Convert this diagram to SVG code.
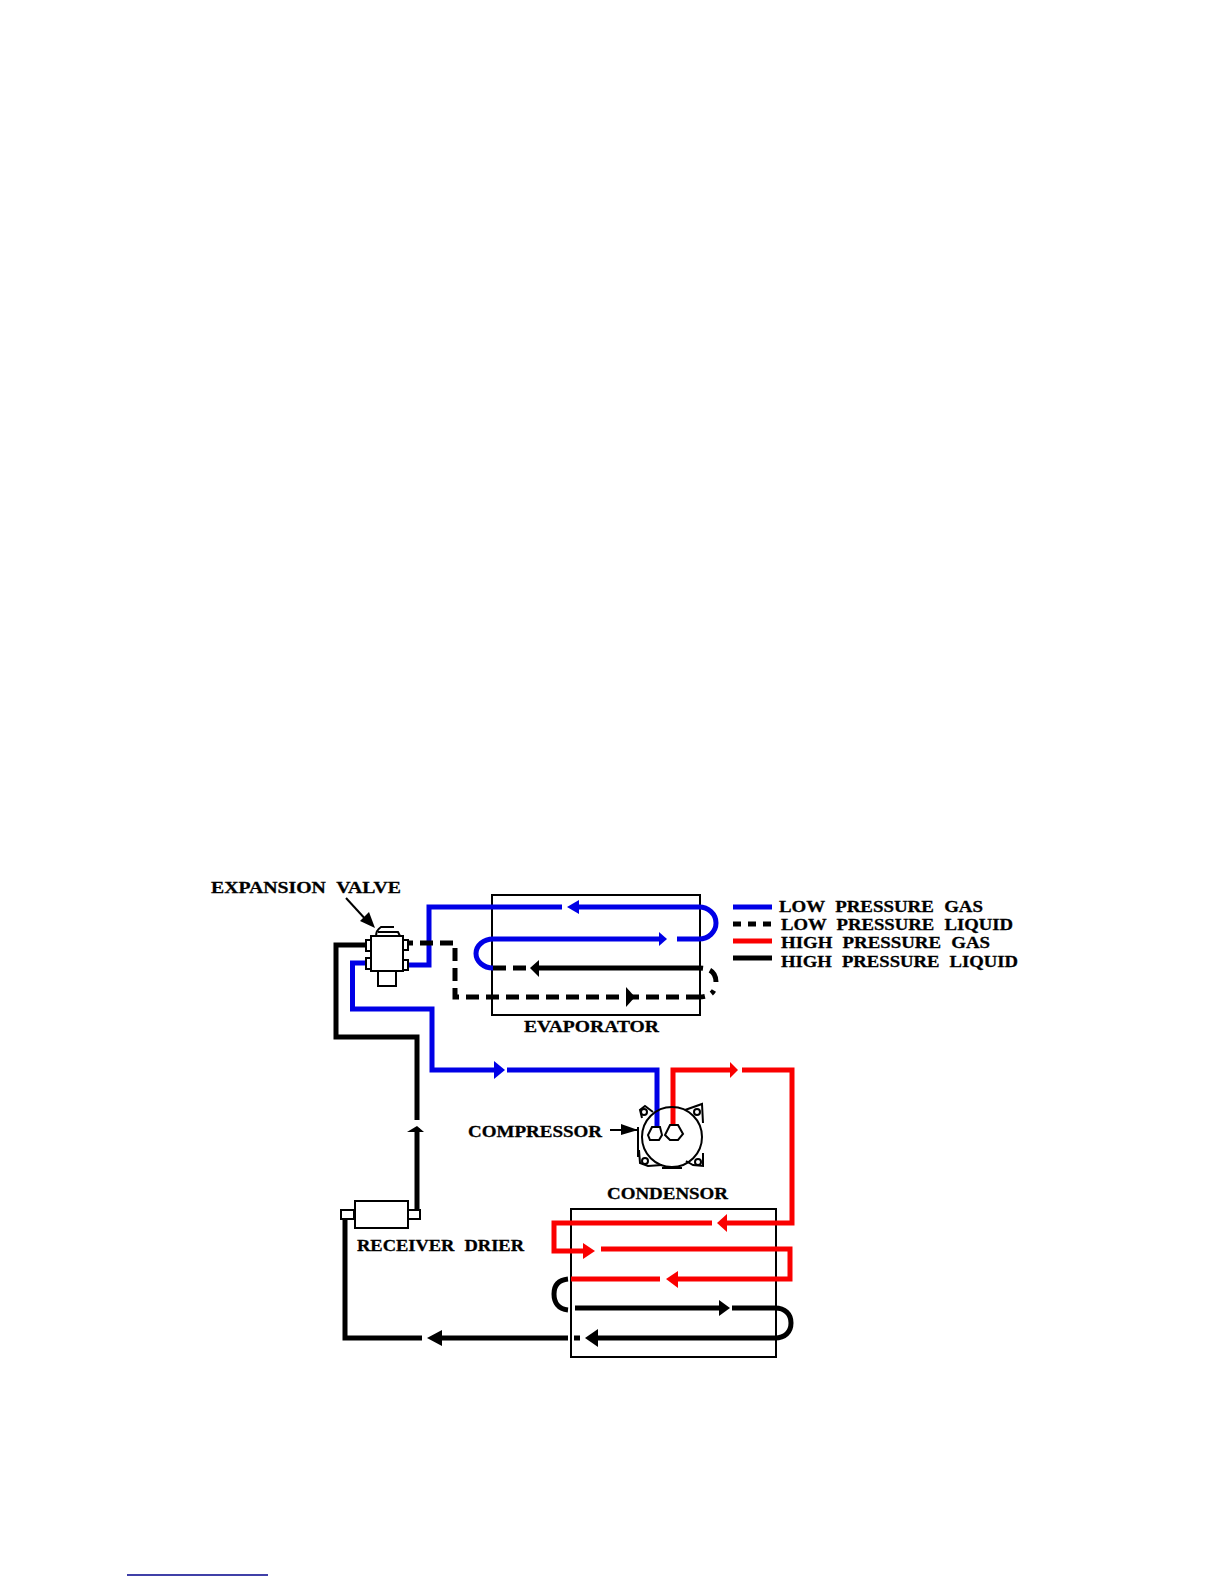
<svg xmlns="http://www.w3.org/2000/svg" width="1224" height="1584" viewBox="0 0 1224 1584">
<style>
.p{fill:none;stroke-width:5;stroke-linejoin:miter}
.b{stroke:#0000e6}.r{stroke:#fa0000}.k{stroke:#000}
.d{stroke-dasharray:13 7}
.n{fill:#fff;stroke:#000;stroke-width:2}
.o{fill:none;stroke:#000;stroke-width:2}
.t{font-family:"Liberation Serif","DejaVu Serif",serif;font-weight:bold;font-size:17px;fill:#000;stroke:#000;stroke-width:.3;word-spacing:5px}
.fb{fill:#0000e6}.fr{fill:#fa0000}.fk{fill:#000}
</style>
<rect width="1224" height="1584" fill="#fff"/>
<g id="evaporator"><rect class="o" x="492" y="895" width="208" height="120"/><text class="t" x="524" y="1032" textLength="135" lengthAdjust="spacingAndGlyphs">EVAPORATOR</text></g>
<g id="condensor"><rect class="o" x="571" y="1209" width="205" height="148"/><text class="t" x="607" y="1199" textLength="121" lengthAdjust="spacingAndGlyphs">CONDENSOR</text></g>
<g id="connectors">
<path class="p b" d="M407 965H429V935M429 953V907H562"/>
<path class="p b" d="M575 907H699A17 16 0 0 1 699 939H677"/>
<path class="p b" d="M660 939H493A17 14.500 0 0 0 493 968"/>
<path class="p k d" d="M493 968H530"/>
<path class="p k" d="M535 968H699"/>
<path class="p k" d="M699 968C712 968 716 974 716 982C716 990 712 997 699 997" stroke-dasharray="4 7 14 9"/>
<path class="p k d" d="M699 997H455V943H408"/>
<path class="p k" d="M366 945H336V1037H417V1120"/>
<path class="p k" d="M417 1128V1210"/>
<path class="p b" d="M369 963H352.500V1009H432V1070H496"/>
<path class="p b" d="M507 1070H657V1127"/>
<path class="p r" d="M673 1125V1070H732"/>
<path class="p r" d="M742 1070H792V1223H725"/>
<path class="p r" d="M712 1223H554V1251H585"/>
<path class="p r" d="M601 1249H790V1279H675"/>
<path class="p r" d="M660 1279H571"/>
<path class="p k" d="M568 1279C558 1280 554 1286 554 1294C554 1302 558 1309 568 1310"/>
<path class="p k" d="M575 1308H722"/>
<path class="p k" d="M732 1308H775C785 1308 791 1314 791 1323C791 1332 785 1338 775 1338H595"/>
<path class="p k" d="M580 1338H574M568 1338H440"/>
<path class="p k" d="M422 1338H345V1219"/>
<path class="fb" d="M567 907L579 900V914Z"/>
<path class="fb" d="M667 939L659 932V946Z"/>
<path class="fk" d="M530 968L539 960V977Z"/>
<path class="fk" d="M635 997L626 987V1007Z"/>
<path class="fb" d="M505 1070L494 1061V1079Z"/>
<path class="fr" d="M738 1070L730 1062V1078Z"/>
<path class="fr" d="M717 1223L727 1214V1232Z"/>
<path class="fr" d="M595 1251L583 1243V1259Z"/>
<path class="fr" d="M666 1279L678 1271V1288Z"/>
<path class="fk" d="M730 1308L719 1300V1316Z"/>
<path class="fk" d="M585 1338L598 1329V1347Z"/>
<path class="fk" d="M427 1338L442 1330V1346Z"/>
<path class="fk" d="M417 1126L424 1132H407Z"/>
</g>
<g id="expansion-valve">
<rect class="n" x="378" y="971" width="18" height="15"/>
<rect class="n" x="366" y="940" width="6" height="11"/>
<rect class="n" x="366" y="958" width="6" height="11"/>
<rect class="n" x="403" y="940" width="5" height="10"/>
<rect class="n" x="403" y="960" width="5" height="10"/>
<rect class="n" x="371" y="936" width="32" height="35"/>
<path class="o" d="M376 936C376 931 378 929 381 927H394M378 932H398L400 936"/>
<text class="t" x="211" y="893" textLength="190" lengthAdjust="spacingAndGlyphs">EXPANSION VALVE</text>
<path class="o" d="M346 898L368 922" stroke-width="1.500"/>
<path class="fk" d="M375 928L360 921L369 912Z"/>
</g>
<g id="compressor">
<path class="o" d="M642 1118L640 1110L645 1106L653 1112M685 1110L702 1104L703 1123M703 1153L703 1166L693 1165L686 1161M639 1150L640 1163L648 1166L662 1165"/>
<circle class="o" cx="672" cy="1137" r="30"/>
<path class="o" d="M638 1127V1157" stroke-width="2"/>
<path class="o" d="M662 1168H682"/>
<circle class="o" cx="644" cy="1112" r="3"/><circle class="o" cx="697" cy="1112" r="3"/><circle class="o" cx="645" cy="1161" r="3"/><circle class="o" cx="698" cy="1162" r="3"/>
<path class="n" d="M652 1127H660L662 1135L659 1140H650L648 1135Z"/>
<path class="n" d="M670 1125H678L683 1134L678 1140H670L665 1135Z"/>
<text class="t" x="468" y="1137" textLength="134" lengthAdjust="spacingAndGlyphs">COMPRESSOR</text>
<path class="o" d="M610 1130H637" stroke-width="1.500"/>
<path class="fk" d="M638 1130L621 1124V1135Z"/>
</g>
<g id="receiver-drier">
<rect class="n" x="355" y="1201" width="53" height="27"/>
<rect class="n" x="341" y="1210" width="13" height="9"/>
<rect class="n" x="408" y="1210" width="12" height="9"/>
<text class="t" x="357" y="1251" textLength="167" lengthAdjust="spacingAndGlyphs">RECEIVER DRIER</text>
</g>
<g id="legend">
<path class="p b" d="M733 907H772" stroke-width="4"/>
<path class="p k" d="M733 924H772" stroke-dasharray="8 7" stroke-width="4"/>
<path class="p r" d="M733 941H772" stroke-width="4"/>
<path class="p k" d="M733 958H772" stroke-width="4"/>
<text class="t" x="779" y="912" textLength="204" lengthAdjust="spacingAndGlyphs">LOW PRESSURE GAS</text>
<text class="t" x="781" y="930" textLength="232" lengthAdjust="spacingAndGlyphs">LOW PRESSURE LIQUID</text>
<text class="t" x="781" y="948" textLength="209" lengthAdjust="spacingAndGlyphs">HIGH PRESSURE GAS</text>
<text class="t" x="781" y="967" textLength="237" lengthAdjust="spacingAndGlyphs">HIGH PRESSURE LIQUID</text>
</g>
<path d="M127 1575H268" stroke="#00008b" stroke-width="1.500" fill="none"/>
</svg>
